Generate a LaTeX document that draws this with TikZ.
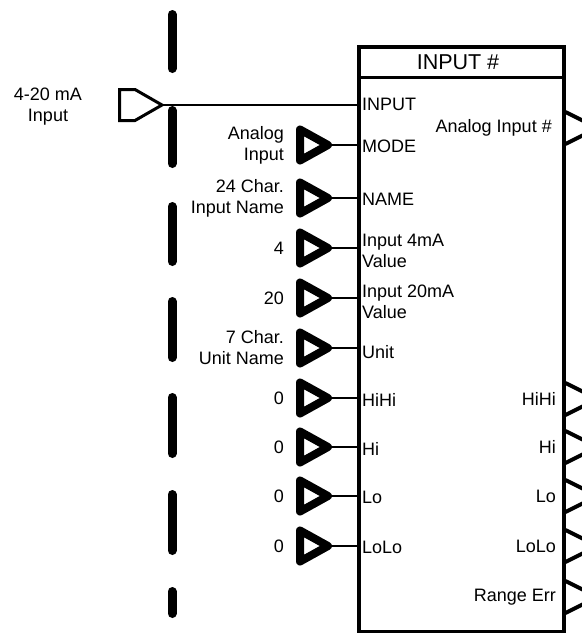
\documentclass[tikz,border=0pt]{standalone}
\usepackage{fontspec}
\setmainfont{Liberation Sans}
\begin{document}
\begin{tikzpicture}[x=1pt,y=-1pt,
  intri/.style={line width=8pt, line join=round, fill=white},
  outtri/.style={line width=4pt, line join=miter},
  wire/.style={line width=2pt},
  lbl/.style={inner sep=0pt, font=\fontsize{18}{21}\selectfont},
  llbl/.style={lbl, anchor=east, align=right},
  plbl/.style={lbl, anchor=west, align=left},
  rlbl/.style={lbl, anchor=east},
  dashseg/.style={line width=9pt, line cap=round},
  blockbox/.style={draw, line width=3.5pt, inner sep=0pt, fill=white}]
\useasboundingbox (0,0) rectangle (582,633);
\clip (0,0) rectangle (582,633);
% dashed boundary
\foreach \a/\b in {10/73,106/168,202/266,297/362,393/458,490/555,587/618}
  \draw[dashseg] (172,\a+4.5) -- (172,\b-4.5);
% block
\node[blockbox, minimum width=205pt, minimum height=585pt, anchor=north west] (blk) at (357,45) {};
\coordinate (tl) at (357,77);
\coordinate (tr) at (562,77);
\draw[line width=3pt] (tl) -- (tr);
\node[lbl, font=\fontsize{21.5}{24}\selectfont] (title) at (458,62) {INPUT \#};
% 4-20 mA input
\draw[line width=3pt, line join=miter] (119.5,89.5) -- (135,89.5) -- (162,105) coordinate (ain) -- (135,120.5) -- (119.5,120.5) -- cycle;
\node[lbl, align=center] (ainlbl) at (48,107) {4-20 mA\\Input};
\coordinate (pin) at (blk.west |- ain);
\draw[wire] (ain) -- (pin);
\node[plbl] (pinlbl) at (362,104) {INPUT};
% parameter inputs
\foreach \i/\c/\t/\p/\py in {
  1/145/{Analog\\Input}/{MODE}/146,
  2/198/{24 Char.\\Input Name}/{NAME}/199,
  3/248/{4}/{Input 4mA\\Value}/251,
  4/298/{20}/{Input 20mA\\Value}/302,
  5/348/{7 Char.\\Unit Name}/{Unit}/352,
  6/398/{0}/{HiHi}/400,
  7/447/{0}/{Hi}/449,
  8/496/{0}/{Lo}/497,
  9/546/{0}/{LoLo}/547}{
  \draw[intri] (300,\c-15.5) -- (328,\c) coordinate (tip\i) -- (300,\c+15.5) -- cycle;
  \coordinate (port\i) at (blk.west |- tip\i);
  \draw[wire] (tip\i) -- (port\i);
  \node[llbl] (val\i) at (284,\c) {\t};
  \node[plbl] (pl\i) at (362,\py) {\p};
}
% outputs
\foreach \j/\c in {1/128,2/399,3/447,4/496,5/546,6/597}{
  \coordinate (ob\j) at (blk.east |- 0,\c);
  \draw[outtri] ([yshift=16pt]ob\j) -- ++(32,16) coordinate (otip\j) -- ++(-32,16);
}
\node[rlbl] (out1) at (552,128) {Analog Input \#};
\node[rlbl] (out2) at (556,399) {HiHi};
\node[rlbl] (out3) at (556,447) {Hi};
\node[rlbl] (out4) at (556,496) {Lo};
\node[rlbl] (out5) at (556,546) {LoLo};
\node[rlbl] (out6) at (556,597) {Range Err};
\end{tikzpicture}
\end{document}
